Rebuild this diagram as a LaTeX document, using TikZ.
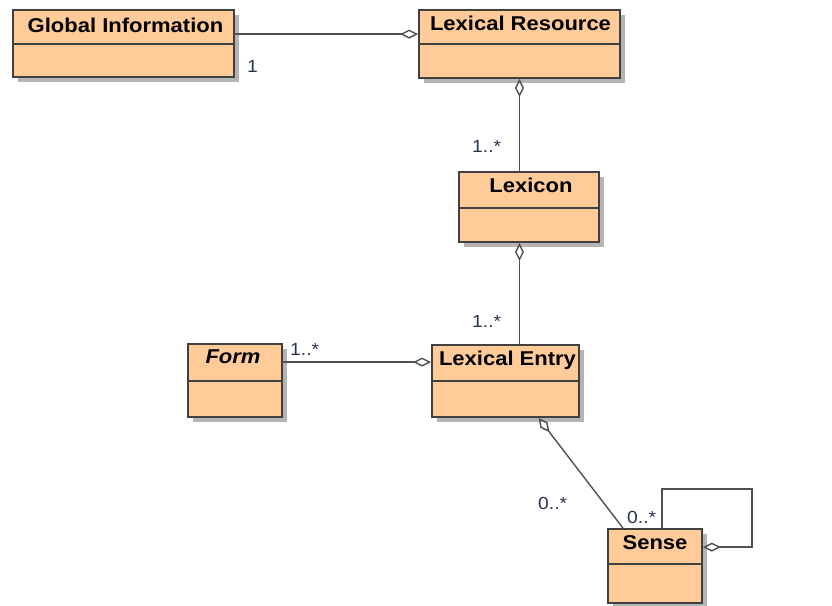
\documentclass[tikz,border=0pt]{standalone}
\usepackage{fontspec}
\newfontfamily\umlfont[FakeStretch=1.1]{Liberation Sans}
\usetikzlibrary{arrows.meta,shadows,calc,positioning}
\definecolor{classfill}{HTML}{FFCC99}
\definecolor{classedge}{HTML}{404040}
\definecolor{shadowgray}{HTML}{B4B4B4}
\definecolor{linkgray}{HTML}{505050}
\definecolor{multcolor}{HTML}{25334D}

\tikzset{
    classbox/.style={draw=classedge, line width=1.8pt, fill=classfill, inner sep=0pt,
        drop shadow={shadow xshift=5pt, shadow yshift=-5pt, fill=shadowgray, opacity=1}},
    classname/.style={font=\umlfont\fontsize{20}{24}\selectfont\bfseries, anchor=base, text=black, inner sep=0pt},
    divider/.style={draw=classedge, line width=1.5pt},
    agg/.style={draw=linkgray, line width=1.4pt, {Diamond[open,length=18pt,width=9pt,line width=1.4pt]}-},
    mult/.style={font=\umlfont\fontsize{17.5}{20}\selectfont, anchor=base west, text=multcolor, inner sep=0pt}
}

\begin{document}
\begin{tikzpicture}[x=1pt, y=-1pt]
    \useasboundingbox (0,0) rectangle (832,605);

    % classes
    \node[classbox, minimum width=221pt, minimum height=67pt] (glob) at (123.5,43.5) {};
    \node[classbox, minimum width=201pt, minimum height=68pt] (lexres) at (519.5,44) {};
    \node[classbox, minimum width=140pt, minimum height=70pt] (lexicon) at (529,207) {};
    \node[classbox, minimum width=94pt, minimum height=73pt] (form) at (235,380.5) {};
    \node[classbox, minimum width=147pt, minimum height=72pt] (lexentry) at (505.5,381) {};
    \node[classbox, minimum width=94pt, minimum height=74pt] (sense) at (655,566) {};

    % compartments
    \draw[divider] ($(glob.north west)+(0,35)$) -- ($(glob.north east)+(0,35)$);
    \draw[divider] ($(lexres.north west)+(0,35)$) -- ($(lexres.north east)+(0,35)$);
    \draw[divider] ($(lexicon.north west)+(0,37)$) -- ($(lexicon.north east)+(0,37)$);
    \draw[divider] ($(form.north west)+(0,38)$) -- ($(form.north east)+(0,38)$);
    \draw[divider] ($(lexentry.north west)+(0,37)$) -- ($(lexentry.north east)+(0,37)$);
    \draw[divider] ($(sense.north west)+(0,36)$) -- ($(sense.north east)+(0,36)$);

    % class names
    \node[classname] (glob-name) at ($(glob.north)+(2,23)$) {Global Information};
    \node[classname] (lexres-name) at ($(lexres.north)+(1,21)$) {Lexical Resource};
    \node[classname] (lexicon-name) at ($(lexicon.north)+(2,21)$) {Lexicon};
    \node[classname] (form-name) at ($(form.north)+(-2,20)$) {\itshape Form};
    \node[classname] (lexentry-name) at ($(lexentry.north)+(2,21)$) {Lexical Entry};
    \node[classname] (sense-name) at ($(sense.north)+(0,21)$) {Sense};

    % aggregations
    \draw[agg] ($(lexres.north west)+(0,25)$) -- ($(glob.north east)+(0,25)$);
    \draw[agg] (lexres.south) -- (lexres.south |- lexicon.north);
    \draw[agg] (lexres.south |- lexicon.south) -- (lexres.south |- lexentry.north);
    \draw[agg] ($(lexentry.north west)+(0,18)$) -- ($(form.north east)+(0,19)$);
    \draw[agg] ($(lexentry.south)+(33,0)$) -- ($(sense.north)+(-32,0)$);
    \coordinate (loopcorner) at (752,489);
    \draw[agg] ($(sense.north east)+(0,19)$) -| (loopcorner) -| ($(sense.north)+(7,0)$);

    % multiplicities
    \node[mult] (m-glob) at (247,72) {1};
    \node[mult] (m-lexicon) at (472,152) {1..*};
    \node[mult] (m-entry) at (472,327) {1..*};
    \node[mult] (m-form) at (290,355) {1..*};
    \node[mult] (m-sense) at (538,509) {0..*};
    \node[mult] (m-self) at (627,523) {0..*};
\end{tikzpicture}
\end{document}
